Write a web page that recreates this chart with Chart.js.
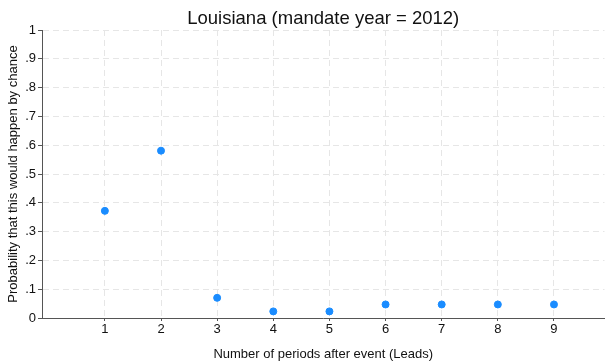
<!DOCTYPE html>
<html>
<head>
<meta charset="utf-8">
<script src="https://cdn.jsdelivr.net/npm/chart.js@4"></script>
<style>
  body { margin: 0; background: #fff; }
  #wrap { width: 609px; height: 362px; }
</style>
</head>
<body>
<div id="wrap"><canvas id="leadsChart" width="609" height="362"></canvas></div>
<script>
// leads after the mandate and the share of placebo runs at least as extreme
const leads = [1, 2, 3, 4, 5, 6, 7, 8, 9];
const probability = [0.372, 0.581, 0.070, 0.023, 0.023, 0.047, 0.047, 0.047, 0.047];
const yTicks = [0, 0.1, 0.2, 0.3, 0.4, 0.5, 0.6, 0.7, 0.8, 0.9, 1];
const chartTitle = 'Louisiana (mandate year = 2012)';

const fontFamily = '"Liberation Sans", Arial, Helvetica, sans-serif';

// format like Stata: .1 .2 ... 0 and 1
function stataLabel(v) {
    if (v === 0) return '0';
    if (Math.abs(v - 1) < 1e-9) return '1';
    return '.' + Math.round(v * 10);
}

// title centred over the plot region, not the whole canvas
const plotTitle = {
    id: 'plotTitle',
    afterDraw: chart => {
        const c = chart.ctx;
        const area = chart.chartArea;
        c.save();
        c.fillStyle = '#111';
        c.font = '18.5px ' + fontFamily;
        c.textAlign = 'center';
        c.textBaseline = 'middle';
        c.fillText(chartTitle, (area.left + area.right) / 2, 19);
        c.restore();
    }
};

const ctx = document.getElementById('leadsChart').getContext('2d');
new Chart(ctx, {
    type: 'scatter',
    data: {
        datasets: [{
            data: leads.map((x, i) => ({ x: x, y: probability[i] })),
            backgroundColor: '#1a8cff',
            borderColor: '#1a8cff',
            pointRadius: 3.5,
            pointHoverRadius: 3.5
        }]
    },
    options: {
        responsive: false,
        animation: false,
        layout: { padding: { left: 6, right: 0, top: 30, bottom: 0 } },
        plugins: {
            legend: { display: false },
            tooltip: { enabled: false },
            title: { display: false }
        },
        scales: {
            x: {
                type: 'linear',
                min: -0.12,
                max: 9.9,
                afterBuildTicks: scale => { scale.ticks = leads.map(v => ({ value: v })); },
                afterFit: scale => { scale.height = 44; },
                ticks: {
                    color: '#111',
                    font: { family: fontFamily, size: 13 },
                    padding: 1,
                    maxRotation: 0
                },
                grid: {
                    color: '#e6e6e6',
                    tickColor: '#555',
                    tickLength: 3,
                    tickBorderDash: []
                },
                border: { display: true, color: '#555', width: 1, dash: [6, 4] },
                title: {
                    display: true,
                    text: 'Number of periods after event (Leads)',
                    color: '#111',
                    font: { family: fontFamily, size: 13 },
                    padding: { top: 1, bottom: 0 }
                }
            },
            y: {
                min: 0,
                max: 1,
                afterBuildTicks: scale => { scale.ticks = yTicks.map(v => ({ value: v })); },
                afterFit: scale => { scale.width = 36; },
                ticks: {
                    color: '#111',
                    font: { family: fontFamily, size: 13 },
                    padding: 2,
                    callback: v => stataLabel(v)
                },
                grid: {
                    color: '#e6e6e6',
                    tickColor: '#555',
                    tickLength: 4,
                    tickBorderDash: []
                },
                border: { display: true, color: '#555', width: 1, dash: [6, 4] },
                title: {
                    display: true,
                    text: 'Probability that this would happen by chance',
                    color: '#111',
                    font: { family: fontFamily, size: 13 },
                    padding: { top: 0, bottom: 2 }
                }
            }
        }
    },
    plugins: [plotTitle]
});
</script>
</body>
</html>
